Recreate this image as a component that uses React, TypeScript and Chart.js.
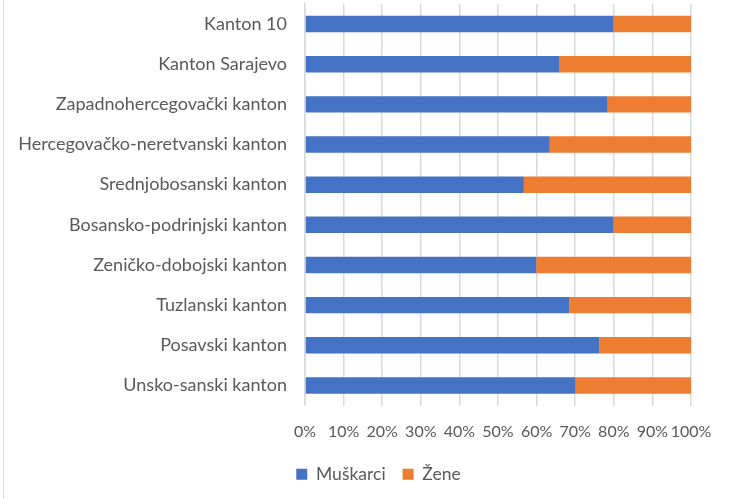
import React, { useEffect, useRef } from "react";
import { Chart, registerables } from "chart.js";

Chart.register(...registerables);

const categories = [
  "Kanton 10",
  "Kanton Sarajevo",
  "Zapadnohercegovački kanton",
  "Hercegovačko-neretvanski kanton",
  "Srednjobosanski kanton",
  "Bosansko-podrinjski kanton",
  "Zeničko-dobojski kanton",
  "Tuzlanski kanton",
  "Posavski kanton",
  "Unsko-sanski kanton",
];

const muskarci = [79.9, 65.8, 78.4, 63.4, 56.7, 79.9, 59.9, 68.5, 76.2, 70.1];
const zene = [20.1, 34.2, 21.6, 36.6, 43.3, 20.1, 40.1, 31.5, 23.8, 29.9];

const seriesNames = ["Muškarci", "Žene"];
const xTicks = [0, 10, 20, 30, 40, 50, 60, 70, 80, 90, 100];

const FONT = "Lato";
const TEXT = "#595959";

const legendShift = {
  id: "legendShift",
  afterLayout(chart: any) {
    if (chart.legend) {
      chart.legend.left += 33;
      chart.legend.right += 33;
    }
  },
};

export default function App() {
  const ref = useRef<HTMLCanvasElement>(null);

  useEffect(() => {
    document.body.style.margin = "0";
    const ctx = ref.current!;
    const chart = new Chart(ctx, {
      type: "bar",
      data: {
        labels: categories,
        datasets: [
          {
            label: seriesNames[0],
            data: muskarci,
            backgroundColor: "#4472C4",
            barPercentage: 0.41,
            categoryPercentage: 1,
          },
          {
            label: seriesNames[1],
            data: zene,
            backgroundColor: "#ED7D31",
            barPercentage: 0.41,
            categoryPercentage: 1,
          },
        ],
      },
      plugins: [legendShift],
      options: {
        indexAxis: "y",
        animation: false,
        responsive: false,
        layout: { padding: { left: 0, right: 39, top: 4, bottom: 6 } },
        plugins: {
          tooltip: { enabled: false },
          legend: {
            position: "bottom",
            labels: {
              boxWidth: 11,
              boxHeight: 11,
              padding: 17,
              color: TEXT,
              font: { family: FONT, size: 17.5 },
            },
          },
        },
        scales: {
          x: {
            stacked: true,
            min: 0,
            max: 100,
            afterBuildTicks: (s: any) => {
              s.ticks = xTicks.map((v) => ({ value: v }));
            },
            afterFit: (s: any) => {
              s.height = 43;
              s.paddingTop = 0;
              s.paddingBottom = 0;
              s.paddingLeft = 0;
              s.paddingRight = 0;
            },
            ticks: {
              color: TEXT,
              font: { family: FONT, size: 16 },
              padding: 17,
              maxRotation: 0,
              autoSkip: false,
              callback: (v: any) => v + "%",
            },
            grid: { color: "#d9d9d9", lineWidth: 1.5, drawTicks: false },
            border: { display: false },
          },
          y: {
            stacked: true,
            afterFit: (s: any) => {
              s.width = 305;
              s.paddingTop = 0;
              s.paddingBottom = 0;
              s.paddingLeft = 0;
              s.paddingRight = 0;
            },
            ticks: {
              color: TEXT,
              font: { family: FONT, size: 18 },
              padding: 18,
              autoSkip: false,
            },
            grid: { display: false, drawTicks: false },
            border: { display: true, color: "#d9d9d9", width: 1.5 },
          },
        },
      },
    });
    return () => chart.destroy();
  }, []);

  return (
    <div style={{ position: "absolute", left: 0, top: 0, width: 730, height: 499 }}>
      <div
        style={{
          position: "absolute",
          left: 3,
          top: 0,
          width: 1,
          height: 499,
          background: "#d9d9d9",
        }}
      />
      <canvas ref={ref} width={730} height={499} style={{ display: "block" }} />
    </div>
  );
}
